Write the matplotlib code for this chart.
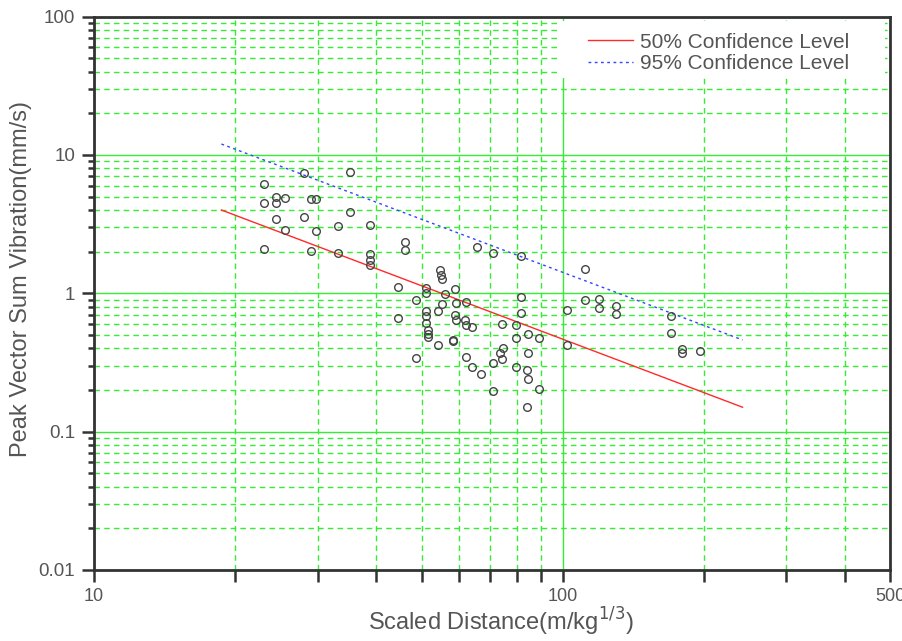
import matplotlib
matplotlib.use("Agg")
import matplotlib.pyplot as plt
from matplotlib.patches import Rectangle
from matplotlib.ticker import LogLocator, FixedLocator, FixedFormatter, NullFormatter

plt.rcParams['font.family'] = ['Liberation Sans', 'DejaVu Sans']

# Measured blasting records: scaled distance (m/kg^1/3) and PVS (mm/s)
scaled_distance = [
    28.0, 35.2, 23.0, 24.45, 24.45, 25.6, 23.0, 29.1, 29.7, 35.2,
    24.45, 28.0, 25.6, 29.7, 33.1, 38.9, 23.0, 29.1, 33.1, 38.9,
    38.9, 38.9, 46.0, 46.0, 44.6, 51.0, 51.0, 54.7, 54.9, 55.4,
    48.6, 56.1, 55.4, 51.0, 51.0, 54.3, 44.6, 65.5, 71.1, 81.4,
    81.4, 58.9, 59.2, 62.2, 111.6, 111.6, 119.7, 119.7, 129.9, 129.9,
    102.0, 81.4, 58.9, 59.2, 62.0, 51.0, 51.5, 51.7, 51.7, 62.2,
    64.2, 74.3, 79.7, 84.5, 79.7, 89.0, 58.4, 58.4, 54.3, 48.6,
    74.7, 73.5, 74.3, 84.5, 62.2, 64.1, 71.1, 67.0, 79.7, 84.1,
    84.5, 71.1, 89.0, 84.1, 102.0, 170.2, 170.2, 180.0, 180.0, 196.3,
]
peak_vibration = [
    7.45, 7.57, 6.20, 4.99, 4.47, 4.86, 4.47, 4.78, 4.78, 3.85,
    3.45, 3.56, 2.87, 2.82, 3.07, 3.10, 2.09, 2.02, 1.95, 1.91,
    1.74, 1.60, 2.34, 2.06, 1.105, 1.087, 1.01, 1.47, 1.36, 1.26,
    0.895, 0.983, 0.837, 0.748, 0.685, 0.748, 0.666, 2.15, 1.95, 1.86,
    0.945, 1.083, 0.851, 0.865, 1.50, 0.895, 0.909, 0.789, 0.810, 0.708,
    0.757, 0.717, 0.697, 0.641, 0.641, 0.605, 0.543, 0.512, 0.483, 0.590,
    0.575, 0.600, 0.590, 0.508, 0.479, 0.473, 0.463, 0.454, 0.426, 0.339,
    0.400, 0.372, 0.336, 0.373, 0.348, 0.292, 0.311, 0.261, 0.292, 0.277,
    0.242, 0.198, 0.202, 0.151, 0.423, 0.689, 0.514, 0.394, 0.372, 0.385,
]

# Regression lines (end points)
line_distance = [18.7, 242.0]
line_50 = [4.0, 0.15]
line_95 = [12.0, 0.46]

x_tick_values = [10, 100, 500]
x_tick_labels = ["10", "100", "500"]
y_tick_values = [0.01, 0.1, 1, 10, 100]
y_tick_labels = ["0.01", "0.1", "1", "10", "100"]

GRID = "#33ee33"
SPINE = "#333333"
TEXT = "#555555"

fig = plt.figure(figsize=(9.03, 6.41), dpi=100)
ax = fig.add_axes([0.1041, 0.1109, 0.9859 - 0.1041, 0.974 - 0.1109])
ax.set_xscale("log")
ax.set_yscale("log")
ax.set_xlim(10, 500)
ax.set_ylim(0.01, 100)

# grid
ax.set_axisbelow(True)
ax.grid(True, which="major", color=GRID, linestyle="-", linewidth=1.0)
ax.grid(True, which="minor", color=GRID, linestyle=(0, (4, 3)), linewidth=1.0)

# white panel behind the legend, hiding the grid there
ax.add_patch(Rectangle((0.5852, 0.8892), 0.9933 - 0.5852, 0.9922 - 0.8892,
                       transform=ax.transAxes, facecolor="white",
                       edgecolor="none", zorder=1))

ax.plot(line_distance, line_50, color="#ff2a2a", linewidth=1.0,
        label="50% Confidence Level", zorder=3)
ax.plot(line_distance, line_95, color="#3344ff", linewidth=1.0,
        linestyle=(0, (2, 2.5)), label="95% Confidence Level", zorder=3)

ax.plot(scaled_distance, peak_vibration, linestyle="none", marker="o",
        markersize=5.5, markerfacecolor="none", markeredgecolor="#444444",
        markeredgewidth=1.0, zorder=4)

# ticks
ax.xaxis.set_major_locator(FixedLocator(x_tick_values))
ax.xaxis.set_major_formatter(FixedFormatter(x_tick_labels))
ax.xaxis.set_minor_locator(FixedLocator([20, 30, 40, 50, 60, 70, 80, 90, 200, 300, 400]))
ax.xaxis.set_minor_formatter(NullFormatter())
ax.yaxis.set_major_locator(FixedLocator(y_tick_values))
ax.yaxis.set_major_formatter(FixedFormatter(y_tick_labels))
ax.yaxis.set_minor_locator(LogLocator(base=10, subs=range(2, 10)))
ax.yaxis.set_minor_formatter(NullFormatter())

ax.tick_params(which="major", direction="out", length=8.5, width=1.8,
               color=SPINE, labelcolor=TEXT, labelsize=13.5, pad=5,
               top=False, right=False)
ax.tick_params(axis="x", which="minor", direction="out", length=8.5, width=1.8,
               color=SPINE, top=False)
ax.tick_params(axis="y", which="minor", direction="out", length=4.5, width=1.8,
               color=SPINE, right=False)
ax.tick_params(axis="x", which="major", labelsize=13, pad=4.5)

for s in ax.spines.values():
    s.set_color(SPINE)
    s.set_linewidth(2.0)

ax.text(0.511, -0.1095, "Scaled Distance(m/kg$^{1/3}$)", transform=ax.transAxes,
        ha="center", va="baseline", color=TEXT, fontsize=17)
ax.text(-0.092, 0.525, "Peak Vector Sum Vibration(mm/s)", transform=ax.transAxes,
        ha="center", va="center", rotation=90, color=TEXT, fontsize=17)

leg = ax.legend(loc="upper left", frameon=False, fontsize=15,
                handlelength=2.15, handletextpad=0.35, labelspacing=0.12,
                borderpad=0, borderaxespad=0,
                bbox_to_anchor=(0.6204, 0.9710))
leg.set_zorder(5)
for t in leg.get_texts():
    t.set_color(TEXT)

fig.savefig("out.png", dpi=100)
